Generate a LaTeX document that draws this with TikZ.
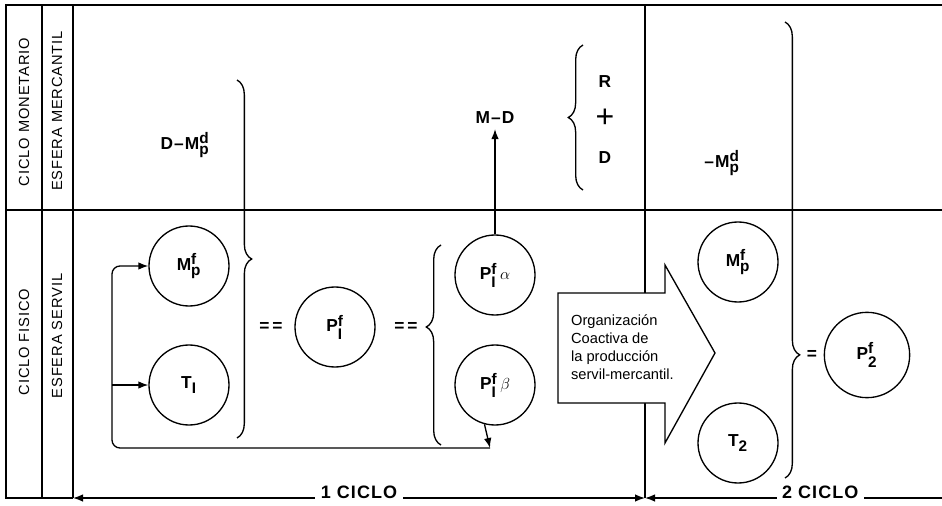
\documentclass[tikz,border=0pt]{standalone}
\usepackage{amsmath}
\usepackage{fontspec}
\setmainfont{Liberation Sans}
\newfontfamily\widefont[LetterSpace=6]{Liberation Sans}
\usetikzlibrary{decorations.pathreplacing,arrows.meta}
\tikzset{circ/.style = {draw, circle, minimum size=60pt, inner sep=0pt, font=\fontsize{13}{14}\selectfont\widefont\bfseries},
  lbl/.style = {font=\fontsize{13}{14}\selectfont\widefont\bfseries},
  side/.style = {rotate=90, font=\fontsize{11}{13}\selectfont\widefont},
  brc/.style = {decorate, decoration={brace, amplitude=11pt}},
  cyc/.style = {fill=white, anchor=base, inner xsep=4pt, font=\fontsize{13.5}{15}\selectfont\widefont\bfseries},
  boxtxt/.style = {align=left, font=\fontsize{11}{13.5}\selectfont}}
\newcommand{\scr}[1]{\hbox{\fontsize{11.5}{12}\selectfont\widefont\bfseries #1}}
\newcommand{\sym}[3]{#1$^{\scr{#2}}_{\scr{#3}}$}

\begin{document}
\begin{tikzpicture}[x=0.75pt, y=-0.75pt, line width=1pt, >=Latex]
  \useasboundingbox (0,0) rectangle (942,506);
  \draw (942,5) -- (6,5) -- (6,498) -- (73,498);
  \draw (42,5) -- (42,498) (73,5) -- (73,498) (6,210) -- (942,210) (645,5) -- (645,498);
  \node[side] (cm) at (24,112) {CICLO MONETARIO};
  \node[side] (em) at (57,111) {ESFERA MERCANTIL};
  \node[side] (cf) at (24,342) {CICLO FISICO};
  \node[side] (es) at (57,336) {ESFERA SERVIL};
  \node[lbl] (dm) at (185,145) {D–\sym{M}{d}{p}};
  \node[circ] (Ml) at (189,266) {\sym{M}{f}{p}};
  \node[circ] (Tl) at (189,385) {T$_{\scr{I}}$};
  \draw[brc] (237,80) -- (237,438);
  \node[lbl] (eq1) at (271,327) {=\,=};
  \node[circ] (P1) at (335,327) {\sym{P}{f}{I}};
  \node[lbl] (eq2) at (406,327) {=\,=};
  \draw[brc, decoration={aspect=0.59}] (441,445) -- (441,245);
  \node[circ] (Pa) at (495,275) {\sym{P}{f}{I}\,$\alpha$};
  \node[circ] (Pb) at (495,385) {\sym{P}{f}{I}\,$\beta$};
  \node[lbl] (md) at (495,118) {M–D};
  \draw[->] (Pa) -- (md);
  \draw[brc] (583,190) -- (583,45);
  \node[lbl] (r) at (605,82) {R};
  \node[font=\fontsize{24}{24}\selectfont] (pl) at (605,118) {+};
  \node[lbl] (d) at (605,158) {D};
  \coordinate (fb) at (490,448);
  \coordinate (lp) at (112,448);
  \draw[->] (Pb.-105) -- (fb);
  \draw[->, rounded corners=6pt] (fb) -- (lp) |- (Ml.west);
  \draw[->] (lp |- Tl.west) -- (Tl.west);
  \draw[fill=white] (558,293) -- (665,293) -- (665,265) -- (715,353) -- (665,443) -- (665,403) -- (558,403) -- cycle;
  \node[boxtxt, anchor=west] (org) at (566,347) {Organización\\Coactiva de\\la producción\\servil-mercantil.};
  \node[lbl] (dm2) at (722,163) {–\sym{M}{d}{p}};
  \node[circ] (Mr) at (738,262) {\sym{M}{f}{p}};
  \node[circ] (T2) at (738,443) {T$_{\scr{2}}$};
  \draw[brc, decoration={aspect=0.73}] (785,22) -- (785,478);
  \node[lbl] (eq3) at (812,355) {=};
  \node[circ, minimum size=64pt] (P2) at (867,355) {\sym{P}{f}{2}};
  \coordinate (b0) at (73,498);
  \coordinate (b1) at (645,498);
  \coordinate (b2) at (942,498);
  \draw[<->] (b0) -- node[cyc] (c1) {1 CICLO} (b1);
  \draw[<-] (b1) -- node[cyc, pos=0.59] (c2) {2 CICLO} (b2);
\end{tikzpicture}
\end{document}
